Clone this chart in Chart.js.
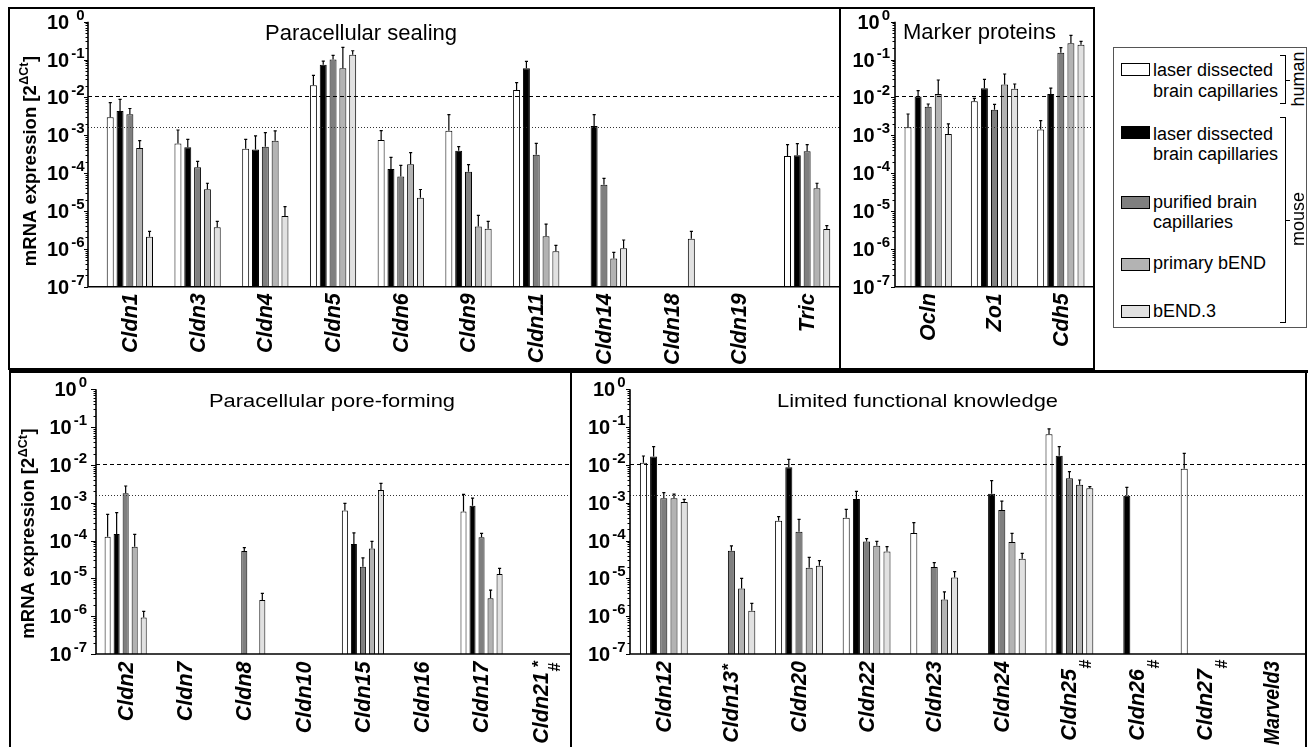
<!DOCTYPE html>
<html><head><meta charset="utf-8">
<script src="https://cdn.jsdelivr.net/npm/chart.js@4.4.0/dist/chart.umd.min.js"></script>
<style>
html,body{margin:0;padding:0;background:#fff;width:1310px;height:747px;overflow:hidden;font-family:"Liberation Sans",Arial,Helvetica,sans-serif;color:#000;}
canvas{position:absolute;}
.ln{position:absolute;background:#000;}
.sw{position:absolute;left:1121px;width:29px;height:13px;box-sizing:border-box;border:1px solid #000;}
.lt{position:absolute;left:1153px;font-size:18px;line-height:18px;white-space:nowrap;}
.rt{position:absolute;font-size:18px;line-height:18px;white-space:nowrap;transform:translate(-50%,-50%) rotate(-90deg);}
</style></head><body>
<script>
// ---------- DATA ----------
const SERIES_NAMES = ['human laser dissected brain capillaries','mouse laser dissected brain capillaries','mouse purified brain capillaries','mouse primary bEND','mouse bEND.3'];
const SERIES_COLORS = ['#ffffff','#000000','#7f7f7f','#b3b3b3','#e1e1e1'];
const yTickExponents = [0,-1,-2,-3,-4,-5,-6,-7];
const REF_DASHED = 1.07e-2;
const REF_DOTTED = 1.63e-3;

// Paracellular sealing
const sealingCategories = ['Cldn1','Cldn3','Cldn4','Cldn5','Cldn6','Cldn9','Cldn11','Cldn14','Cldn18','Cldn19','Tric'];
const sealingHuman    = [2.98e-3, 6.1e-4, 4.4e-4, 2.08e-2, 7.5e-4, 1.32e-3, 1.57e-2, null, null, null, 2.83e-4];
const sealingMouse    = [4.4e-3, 4.8e-4, 4.2e-4, 7.3e-2, 1.29e-4, 3.9e-4, 5.86e-2, 1.76e-3, null, null, 2.95e-4];
const sealingPurified = [3.57e-3, 1.42e-4, 5.0e-4, 0.101, 8.1e-5, 1.09e-4, 3.07e-4, 4.96e-5, null, null, 3.77e-4];
const sealingPrimary  = [4.6e-4, 3.73e-5, 7.2e-4, 5.86e-2, 1.71e-4, 3.9e-6, 2.14e-6, 5.6e-7, null, null, 3.97e-5];
const sealingBEnd3    = [2.1e-6, 3.7e-6, 7.4e-6, 0.134, 2.25e-5, 3.4e-6, 8.6e-7, 1.03e-6, 1.86e-6, null, 3.35e-6];
const sealingHumanErr    = [7.3e-3, 1.38e-3, 7.8e-4, 3.83e-2, 1.32e-3, 3.5e-3, 2.45e-2, null, null, null, 5.65e-4];
const sealingMouseErr    = [8.9e-3, 7.8e-4, 9.6e-4, 9.1e-2, 2.6e-4, 5.0e-4, 8.96e-2, 3.5e-3, null, null, 6.0e-4];
const sealingPurifiedErr = [5.1e-3, 2.05e-4, 1.17e-3, 0.129, 1.6e-4, 1.67e-4, 6.1e-4, 7.3e-5, null, null, 5.65e-4];
const sealingPrimaryErr  = [7.2e-4, 5.4e-5, 1.3e-3, 0.21, 3.5e-4, 7.7e-6, 4.5e-6, 8.1e-7, null, null, 5.4e-5];
const sealingBEnd3Err    = [2.9e-6, 5.3e-6, 1.3e-5, 0.171, 3.7e-5, 5.3e-6, 1.24e-6, 1.71e-6, 2.9e-6, null, 4.1e-6];

// Marker proteins
const markerCategories = ['Ocln','Zo1','Cdh5'];
const markerHuman    = [1.62e-3, 7.9e-3, 1.43e-3];
const markerMouse    = [1.05e-2, 1.74e-2, 1.23e-2];
const markerPurified = [5.7e-3, 4.74e-3, 0.152];
const markerPrimary  = [1.23e-2, 2.21e-2, 0.268];
const markerBEnd3    = [1.08e-3, 1.7e-2, 0.247];
const markerHumanErr    = [3.65e-3, 9.45e-3, 2.43e-3];
const markerMouseErr    = [1.51e-2, 3.0e-2, 1.77e-2];
const markerPurifiedErr = [6.7e-3, 6.56e-3, 0.206];
const markerPrimaryErr  = [2.88e-2, 4.15e-2, 0.436];
const markerBEnd3Err    = [1.99e-3, 2.26e-2, 0.303];

// Paracellular pore-forming
const poreCategories = ['Cldn2','Cldn7','Cldn8','Cldn10','Cldn15','Cldn16','Cldn17','Cldn21'];
const poreSup = ['','','','','','','','*'];
const poreSub = ['','','','','','','','#'];
const poreHuman    = [1.27e-4, null, null, null, 6.2e-4, null, 5.9e-4, null];
const poreMouse    = [1.49e-4, null, null, null, 8.1e-5, null, 8.36e-4, null];
const porePurified = [1.77e-3, null, 5.3e-5, null, 2.04e-5, null, 1.22e-4, null];
const porePrimary  = [6.9e-5, null, null, null, 6.2e-5, null, 3.0e-6, null];
const poreBEnd3    = [9.3e-7, null, 2.67e-6, null, 2.17e-3, null, 1.3e-5, null];
const poreHumanErr    = [4.9e-4, null, null, null, 9.6e-4, null, 1.67e-3, null];
const poreMouseErr    = [5.5e-4, null, null, null, 1.6e-4, null, 1.33e-3, null];
const porePurifiedErr = [2.77e-3, null, 6.5e-5, null, 3.5e-5, null, 1.55e-4, null];
const porePrimaryErr  = [1.46e-4, null, null, null, 9.5e-5, null, 4.9e-6, null];
const poreBEnd3Err    = [1.34e-6, null, 4.0e-6, null, 3.26e-3, null, 1.84e-5, null];

// Limited functional knowledge
const limitedCategories = ['Cldn12','Cldn13','Cldn20','Cldn22','Cldn23','Cldn24','Cldn25','Cldn26','Cldn27','Marveld3'];
const limitedSup = ['','*','','','','','','','',''];
const limitedSub = ['','','','','','','#','#','#',''];
const limitedHuman    = [1.15e-2, null, 3.36e-4, 4.0e-4, 1.58e-4, null, 6.45e-2, null, 7.96e-3, null];
const limitedMouse    = [1.66e-2, null, 8.64e-3, 1.26e-3, null, 1.74e-3, 1.76e-2, 1.54e-3, null, null];
const limitedPurified = [1.31e-3, 5.4e-5, 1.72e-4, 9.5e-5, 2.0e-5, 6.4e-4, 4.42e-3, null, null, null];
const limitedPrimary  = [1.31e-3, 5.4e-6, 1.91e-5, 7.3e-5, 2.78e-6, 9.1e-5, 3.0e-3, null, null, null];
const limitedBEnd3    = [1.05e-3, 1.4e-6, 2.16e-5, 5.1e-5, 1.06e-5, 3.3e-5, 2.4e-3, null, null, null];
const limitedHumanErr    = [1.72e-2, null, 4.28e-4, 6.7e-4, 2.97e-4, null, 8.93e-2, null, 2.03e-2, null];
const limitedMouseErr    = [3.04e-2, null, 1.41e-2, 2.0e-3, null, 3.84e-3, 3.04e-2, 2.55e-3, null, null];
const limitedPurifiedErr = [1.85e-3, 7.2e-5, 3.64e-4, 1.12e-4, 2.6e-5, 1.11e-3, 6.64e-3, null, null, null];
const limitedPrimaryErr  = [1.7e-3, 1.0e-5, 3.6e-5, 9.5e-5, 4.4e-6, 1.55e-4, 4.0e-3, null, null, null];
const limitedBEnd3Err    = [1.23e-3, 2.18e-6, 2.93e-5, 6.9e-5, 1.5e-5, 4.6e-5, 2.66e-3, null, null, null];

// ---------- RENDERING ----------
const FONT = '"Liberation Sans", Arial, Helvetica, sans-serif';

function panelPlugin(p){
  return {
    id: 'panel_' + p.key,
    afterDatasetsDraw(chart){
      const ctx = chart.ctx, xs = chart.scales.x, ys = chart.scales.y, ca = chart.chartArea;
      const ax = ca.left - p.axisShift;
      const yTop = ys.getPixelForValue(1), yBot = ys.getPixelForValue(1e-7);
      ctx.save();
      // error bars
      ctx.strokeStyle = '#000'; ctx.lineWidth = 1.2;
      p.errors.forEach((errs, di) => {
        const meta = chart.getDatasetMeta(di);
        errs.forEach((e, i) => {
          const v = p.series[di][i];
          if (e == null || v == null) return;
          const el = meta.data[i];
          const cx = el.x, y1 = ys.getPixelForValue(v), y2 = ys.getPixelForValue(e);
          ctx.beginPath();
          ctx.moveTo(cx, y1); ctx.lineTo(cx, y2);
          ctx.moveTo(cx - 1.5, y2); ctx.lineTo(cx + 1.6, y2);
          ctx.stroke();
        });
      });
      // reference lines
      ctx.setLineDash([4, 3]); ctx.lineWidth = 1.2; ctx.strokeStyle = '#000';
      let yy = Math.round(ys.getPixelForValue(REF_DASHED)) + 0.5;
      ctx.beginPath(); ctx.moveTo(ax, yy); ctx.lineTo(ca.right, yy); ctx.stroke();
      ctx.setLineDash([1, 2]); ctx.lineWidth = 1; ctx.strokeStyle = '#333';
      yy = Math.round(ys.getPixelForValue(REF_DOTTED)) + 0.5;
      ctx.beginPath(); ctx.moveTo(ax, yy); ctx.lineTo(ca.right, yy); ctx.stroke();
      ctx.setLineDash([]);
      // axes
      ctx.strokeStyle = '#000'; ctx.lineWidth = 1.6;
      ctx.beginPath(); ctx.moveTo(ax, yTop); ctx.lineTo(ax, yBot); ctx.lineTo(ca.right, yBot); ctx.stroke();
      // y ticks (log major + minor)
      ctx.lineWidth = 1;
      ctx.beginPath();
      for (let e = -7; e <= 0; e++) {
        const ym = Math.round(ys.getPixelForValue(Math.pow(10, e))) + 0.5;
        ctx.moveTo(ax - p.majorLen, ym); ctx.lineTo(ax, ym);
        if (e < 0) {
          for (let k = 2; k <= 9; k++) {
            const yk = Math.round(ys.getPixelForValue(k * Math.pow(10, e))) + 0.5;
            ctx.moveTo(ax - p.minorLen, yk); ctx.lineTo(ax, yk);
          }
        }
      }
      ctx.stroke();
      // y tick labels
      ctx.fillStyle = '#000'; ctx.textBaseline = 'alphabetic'; ctx.textAlign = 'right';
      yTickExponents.forEach(e => {
        const ty = ys.getPixelForValue(Math.pow(10, e));
        const right = ax - p.labelGap;
        const sup = String(e);
        ctx.font = 'bold 15px ' + FONT;
        const sw = ctx.measureText(sup).width;
        ctx.fillText(sup, right, ty - 2);
        ctx.font = 'bold 20px ' + FONT;
        ctx.fillText('10', right - sw - 2 - (e === 0 ? p.zeroGap : 0), ty + 7);
      });
      // x labels
      p.categories.forEach((lab, i) => {
        const px = xs.getPixelForValue(i) + 1;
        const sup = p.sup ? p.sup[i] : '';
        const sub = p.sub ? p.sub[i] : '';
        let dMain = p.labelDist;
        if (sup && sub) dMain = 18; else if (sub) dMain = 15; else if (sup) dMain = 17;
        ctx.save();
        ctx.translate(px, yBot);
        ctx.rotate(-Math.PI / 2);
        ctx.font = 'italic bold 21.5px ' + FONT;
        ctx.textAlign = 'right'; ctx.textBaseline = 'middle';
        const lw = ctx.measureText(lab).width;
        const maxLen = 84;
        if (lw > maxLen) {
          ctx.save(); ctx.translate(-dMain, 0); ctx.scale(maxLen / lw, 1); ctx.fillText(lab, 0, 0); ctx.restore();
        } else {
          ctx.fillText(lab, -dMain, 0);
        }
        ctx.textAlign = 'left'; ctx.textBaseline = 'alphabetic';
        if (sub) { ctx.font = 'bold 16px ' + FONT; ctx.fillText(sub, -dMain + 0.5, sup ? 18 : 21); }
        if (sup) { ctx.font = 'bold 17px ' + FONT; ctx.fillText(sup, sub ? -13 : -dMain + 1, 2); }
        ctx.restore();
      });
      // title
      if (p.title) {
        const t = p.title;
        ctx.font = t.size + 'px ' + FONT;
        ctx.textAlign = 'left'; ctx.textBaseline = 'alphabetic';
        const w = ctx.measureText(t.text).width;
        const sx = t.width / w;
        ctx.save();
        ctx.translate(t.cx - p.ox - t.width / 2, t.base - p.oy);
        ctx.scale(sx, 1);
        ctx.fillText(t.text, 0, 0);
        ctx.restore();
      }
      // y-axis title
      if (p.ytitle) {
        const yt = p.ytitle;
        const a = 'mRNA expression [2', s = '\u0394Ct', b = ']';
        ctx.font = 'bold 18.5px ' + FONT; const wa = ctx.measureText(a).width, wb = ctx.measureText(b).width;
        ctx.font = 'bold 12.5px ' + FONT; const ws = ctx.measureText(s).width;
        const W = wa + ws + wb + 1;
        ctx.save();
        ctx.translate(yt.cx - p.ox, yt.cy - p.oy);
        ctx.rotate(-Math.PI / 2);
        ctx.textAlign = 'left'; ctx.textBaseline = 'alphabetic';
        ctx.font = 'bold 18.5px ' + FONT; ctx.fillText(a, -W / 2, 6);
        ctx.font = 'bold 12.5px ' + FONT; ctx.fillText(s, -W / 2 + wa + 0.5, -1.5);
        ctx.font = 'bold 18.5px ' + FONT; ctx.fillText(b, -W / 2 + wa + ws + 1, 6);
        ctx.restore();
      }
      ctx.restore();
    }
  };
}

function buildChart(p){
  const canvas = document.createElement('canvas');
  canvas.width = p.w; canvas.height = p.h;
  canvas.style.left = p.ox + 'px'; canvas.style.top = p.oy + 'px';
  canvas.style.width = p.w + 'px'; canvas.style.height = p.h + 'px';
  document.body.appendChild(canvas);
  const datasets = p.series.map((vals, i) => ({
    label: SERIES_NAMES[i], data: vals,
    backgroundColor: SERIES_COLORS[i], borderColor: '#000', borderWidth: 1,
    categoryPercentage: p.cat, barPercentage: p.bar, borderSkipped: 'start'
  }));
  new Chart(canvas, {
    type: 'bar',
    data: { labels: p.categories, datasets },
    options: {
      responsive: false, animation: false, devicePixelRatio: 1,
      layout: { padding: { left: p.area.l - p.ox, top: p.area.t - p.oy, right: p.ox + p.w - p.area.r, bottom: p.oy + p.h - p.area.b } },
      plugins: { legend: { display: false }, tooltip: { enabled: false } },
      scales: {
        x: { display: false, offset: true },
        y: { type: 'logarithmic', display: false, min: 1e-7, max: 1 }
      }
    },
    plugins: [panelPlugin(p)]
  });
}

buildChart({
  key: 'sealing', ox: 8, oy: 8, w: 833, h: 362,
  area: { l: 96, r: 841, t: 21.7, b: 286.7 }, axisShift: 8, labelDist: 6.5,
  cat: 0.725, bar: 0.71, labelGap: 3.5, majorLen: 4, minorLen: 2.5, zeroGap: 5,
  categories: sealingCategories,
  series: [sealingHuman, sealingMouse, sealingPurified, sealingPrimary, sealingBEnd3],
  errors: [sealingHumanErr, sealingMouseErr, sealingPurifiedErr, sealingPrimaryErr, sealingBEnd3Err],
  title: { text: 'Paracellular sealing', cx: 361, base: 39.5, size: 22, width: 192 },
  ytitle: { cx: 29.5, cy: 161 }
});
buildChart({
  key: 'marker', ox: 840, oy: 8, w: 255, h: 362,
  area: { l: 895, r: 1094, t: 21.7, b: 286.7 }, axisShift: 0, labelDist: 6.5,
  cat: 0.76, bar: 0.69, labelGap: 5, majorLen: 4, minorLen: 2.5, zeroGap: 0,
  categories: markerCategories,
  series: [markerHuman, markerMouse, markerPurified, markerPrimary, markerBEnd3],
  errors: [markerHumanErr, markerMouseErr, markerPurifiedErr, markerPrimaryErr, markerBEnd3Err],
  title: { text: 'Marker proteins', cx: 979.5, base: 38.5, size: 22, width: 153 }
});
buildChart({
  key: 'pore', ox: 9, oy: 371, w: 563, h: 376,
  area: { l: 96, r: 570.5, t: 389.3, b: 654 }, axisShift: 0, labelDist: 7.5,
  cat: 0.76, bar: 0.67, labelGap: 9, majorLen: 5, minorLen: 2.5, zeroGap: 0,
  categories: poreCategories, sup: poreSup, sub: poreSub,
  series: [poreHuman, poreMouse, porePurified, porePrimary, poreBEnd3],
  errors: [poreHumanErr, poreMouseErr, porePurifiedErr, porePrimaryErr, poreBEnd3Err],
  title: { text: 'Paracellular pore-forming', cx: 332, base: 407.3, size: 19, width: 246 },
  ytitle: { cx: 28, cy: 533.5 }
});
buildChart({
  key: 'limited', ox: 571, oy: 371, w: 737, h: 376,
  area: { l: 630, r: 1306, t: 389.3, b: 654 }, axisShift: 0, labelDist: 7,
  cat: 0.754, bar: 0.69, labelGap: 4.5, majorLen: 4, minorLen: 2.5, zeroGap: 0,
  categories: limitedCategories, sup: limitedSup, sub: limitedSub,
  series: [limitedHuman, limitedMouse, limitedPurified, limitedPrimary, limitedBEnd3],
  errors: [limitedHumanErr, limitedMouseErr, limitedPurifiedErr, limitedPrimaryErr, limitedBEnd3Err],
  title: { text: 'Limited functional knowledge', cx: 917.5, base: 407.3, size: 19, width: 281 }
});

// ---------- FRAMES & LEGEND (HTML) ----------
function line(l, t, w, h){ const d = document.createElement('div'); d.className = 'ln'; d.style.cssText = `left:${l}px;top:${t}px;width:${w}px;height:${h}px`; document.body.appendChild(d); }
// top row frame
line(8, 7, 1087, 2); line(8, 7, 2, 363); line(8, 368, 1087, 2); line(839, 7, 2, 363); line(1093, 7, 2, 363);
// bottom row frame
line(9, 370, 1299, 3); line(9, 370, 2, 377); line(570, 370, 2, 377); line(1305, 370, 2, 377);

const legendBox = document.createElement('div');
legendBox.style.cssText = 'position:absolute;left:1113px;top:47px;width:192px;height:279px;border:1px solid #555;';
document.body.appendChild(legendBox);
const swatchTops = [63, 125.5, 195.5, 257.5, 304.5];
swatchTops.forEach((t, i) => { const d = document.createElement('div'); d.className = 'sw'; d.style.top = t + 'px'; d.style.background = SERIES_COLORS[i]; document.body.appendChild(d); });
const legendLines = [
  ['laser dissected', 76], ['brain capillaries', 96.5],
  ['laser dissected', 139.5], ['brain capillaries', 160],
  ['purified brain', 207.5], ['capillaries', 228],
  ['primary bEND', 269.3], ['bEND.3', 316.7]
];
legendLines.forEach(([txt, base]) => { const d = document.createElement('div'); d.className = 'lt'; d.style.top = (base - 15) + 'px'; d.textContent = txt; document.body.appendChild(d); });
// brackets
line(1285, 55, 1.3, 49); line(1280, 55, 5.5, 1.3); line(1280, 103, 5.5, 1.3); line(1285, 79.5, 5, 1.3);
line(1285, 117, 1.3, 206); line(1280, 117, 5.5, 1.3); line(1280, 322, 5.5, 1.3); line(1285, 219.5, 5, 1.3);
[['human', 1298, 79], ['mouse', 1298, 219]].forEach(([txt, cx, cy]) => { const d = document.createElement('div'); d.className = 'rt'; d.style.left = cx + 'px'; d.style.top = cy + 'px'; d.textContent = txt; document.body.appendChild(d); });
</script>
</body></html>
